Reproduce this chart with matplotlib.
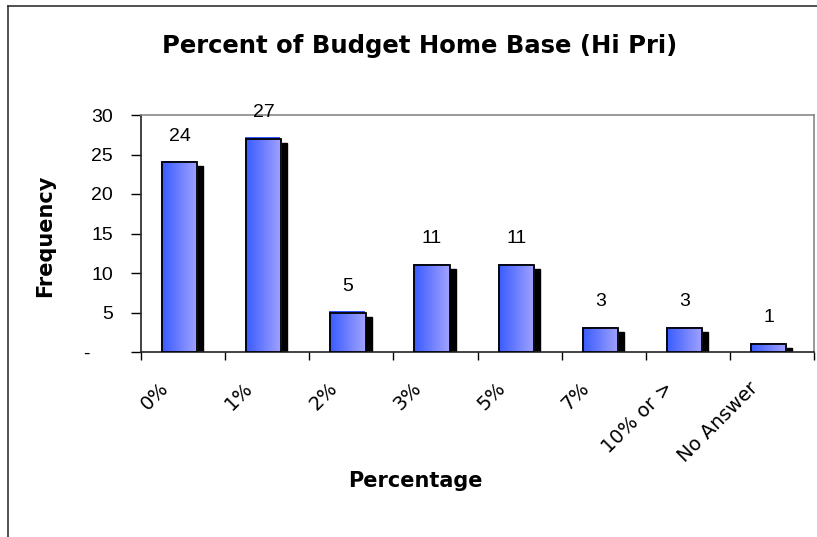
"""
Percent of Budget Home Base (Hi Pri) -- Excel-style bar chart with gradient
bars, drop shadows and value labels.
"""
import numpy as np
import matplotlib
matplotlib.use("Agg")
import matplotlib.pyplot as plt
from matplotlib.patches import Rectangle
from matplotlib.colors import LinearSegmentedColormap
from matplotlib import transforms

categories = ["0%", "1%", "2%", "3%", "5%", "7%", "10% or >", "No Answer"]
counts = [24, 27, 5, 11, 11, 3, 3, 1]
yticks = [0, 5, 10, 15, 20, 25, 30]
ytick_labels = ["-", "5", "10", "15", "20", "25", "30"]

plt.rcParams["font.family"] = ["Liberation Sans", "DejaVu Sans"]
WIDE = ["DejaVu Sans"]  # Excel's spaced-out rendering is closer to a wide face

W, H, DPI = 817, 537, 100
fig = plt.figure(figsize=(W / DPI, H / DPI), dpi=DPI)

# outer chart-area frame (only top and left edges visible)
fig.add_artist(plt.Line2D([8 / W, 8 / W], [0, 1 - 6 / H], color="#333333", lw=1.2,
                          transform=fig.transFigure))
fig.add_artist(plt.Line2D([8 / W, 1], [1 - 6 / H, 1 - 6 / H], color="#333333", lw=1.2,
                          transform=fig.transFigure))

ax = fig.add_axes([141 / W, 1 - 352 / H, (814 - 141) / W, (352 - 115) / H])
ax.set_xlim(-0.5, len(categories) - 0.5)
ax.set_ylim(0, 30)

grad = LinearSegmentedColormap.from_list("bar", ["#3a5cff", "#a3a3ff"])
gimg = np.linspace(0, 1, 64).reshape(1, -1)

width = 0.42
shift = -0.04
for i, v in enumerate(counts):
    x0 = i + shift - width / 2
    # drop shadow
    sh = transforms.offset_copy(ax.transData, fig=fig, x=6, y=-4, units="dots")
    ax.add_patch(Rectangle((x0, 0), width, v, facecolor="black", edgecolor="black",
                           lw=1, transform=sh, zorder=2))
    # thin blue bevel on top/left
    bv = transforms.offset_copy(ax.transData, fig=fig, x=-1, y=1.5, units="dots")
    ax.add_patch(Rectangle((x0, 0), width, v, facecolor="#3355ff", edgecolor="none",
                           transform=bv, zorder=2.5))
    rect = Rectangle((x0, 0), width, v, facecolor="none", edgecolor="black",
                     lw=1.3, zorder=4)
    ax.add_patch(rect)
    im = ax.imshow(gimg, cmap=grad, aspect="auto", extent=(x0, x0 + width, 0, v),
                   zorder=3)
    im.set_clip_path(rect)
    ax.annotate(str(v), (i + shift, v), xytext=(0, 19), textcoords="offset points",
                ha="center", va="center", fontsize=14)

ax.set_xlim(-0.5, len(categories) - 0.5)
ax.set_ylim(0, 30)

# spines: plot-area box grey, axes black
for s in ("top", "right"):
    ax.spines[s].set_color("#888888")
    ax.spines[s].set_linewidth(1.2)
for s in ("left", "bottom"):
    ax.spines[s].set_color("#222222")
    ax.spines[s].set_linewidth(1.2)

ax.set_yticks(yticks)
ax.set_yticklabels(ytick_labels, fontsize=14)
ax.tick_params(axis="y", length=7, width=1, direction="out", pad=13)
# accounting-style zero sits further left
zlab = ax.get_yticklabels()[0]
zlab.set_transform(zlab.get_transform()
                   + transforms.ScaledTranslation(-24 / DPI, 0, fig.dpi_scale_trans))

# tick marks at category boundaries, labels at centres
ax.set_xticks(np.arange(-0.5, len(categories)), minor=False)
ax.set_xticklabels([])
ax.tick_params(axis="x", which="major", length=6, width=1, direction="out")
ax.set_xticks(np.arange(len(categories)), minor=True)
ax.set_xticklabels(categories, minor=True, fontsize=14, family=WIDE)
ax.tick_params(axis="x", which="minor", length=0, pad=24)
offset = transforms.ScaledTranslation(-17 / DPI, 0, fig.dpi_scale_trans)
for lab in ax.get_xticklabels(minor=True):
    lab.set_rotation(45)
    lab.set_ha("right")
    lab.set_va("center")
    lab.set_rotation_mode("anchor")
    lab.set_transform(lab.get_transform() + offset)

ax.set_ylabel("Frequency", fontsize=15, fontweight="bold", family=WIDE,
              rotation_mode="anchor", va="baseline", ha="center")
ax.yaxis.set_label_coords((51 - 141) / (814 - 141), (352 - 236) / (352 - 115))
fig.text(415 / W, 1 - 487 / H, "Percentage", fontsize=15, fontweight="bold",
         family=WIDE, ha="center", va="baseline")
fig.text(420 / W, 1 - 53 / H, "Percent of Budget Home Base (Hi Pri)", fontsize=17.5,
         fontweight="bold", family=WIDE, ha="center", va="baseline")

fig.savefig("out.png", dpi=DPI)
